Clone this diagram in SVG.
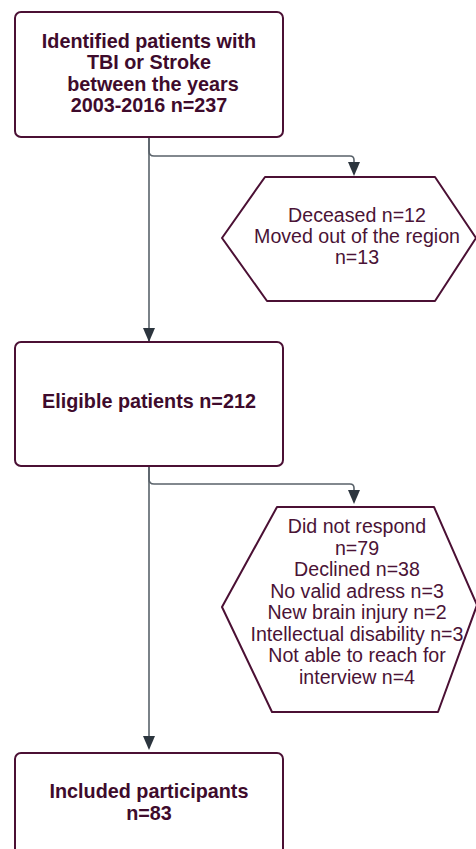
<svg xmlns="http://www.w3.org/2000/svg" width="476" height="849" viewBox="0 0 476 849">
<defs>
<style>
.box{fill:#fff;stroke:#4b1034;stroke-width:2}
.hex{fill:#fff;stroke:#4b1034;stroke-width:2;stroke-linejoin:round}
.b{font-family:"Liberation Sans",Arial,sans-serif;font-weight:bold;font-size:19.8px;fill:#3e0b2c;text-anchor:middle}
.r{font-family:"Liberation Sans",Arial,sans-serif;font-size:19.6px;fill:#4a1336;text-anchor:middle}
.c{fill:none;stroke:#59626a;stroke-width:1.6}
.ah{fill:#2c353e}
</style>
</defs>
<rect width="476" height="849" fill="#fff"/>
<g id="connectors">
<path class="c" d="M149,137 V743"/>
<path class="ah" d="M143,736 L155,736 L149,750 Z"/>
<path class="c" d="M149,137 V151 Q149,156 154,156 H350 Q354,156 354,160 V168"/>
<path class="ah" d="M348,162 L360,162 L354,176 Z"/>
<path class="c" d="M149,466 V479 Q149,484 154,484 H350 Q354,484 354,488 V497"/>
<path class="ah" d="M348,490 L360,490 L354,504 Z"/>
<path class="ah" d="M143,328 L155,328 L149,342 Z"/>
</g>
<g id="n1">
<rect class="box" x="15" y="12" width="268" height="125" rx="6"/>
<text class="b" x="149" y="48">Identified patients with</text>
<text class="b" x="149" y="69">TBI or Stroke</text>
<text class="b" x="153" y="91">between the years</text>
<text class="b" x="149" y="112">2003-2016 n=237</text>
</g>
<g id="n2">
<path class="hex" d="M265,177 H435 L476,238 L435,301 H267 L222,238 Z"/>
<text class="r" x="357" y="222">Deceased n=12</text>
<text class="r" x="357" y="243">Moved out of the region</text>
<text class="r" x="357" y="264">n=13</text>
</g>
<g id="n3">
<rect class="box" x="15" y="342" width="268" height="124" rx="6"/>
<text class="b" x="149" y="408">Eligible patients n=212</text>
</g>
<g id="n4">
<path class="hex" d="M277,507 H434 L477,605 L438,712 H272 L222,607 Z"/>
<text class="r" x="357" y="533">Did not respond</text>
<text class="r" x="357" y="555">n=79</text>
<text class="r" x="357" y="576">Declined n=38</text>
<text class="r" x="357" y="598">No valid adress n=3</text>
<text class="r" x="357" y="619">New brain injury n=2</text>
<text class="r" x="357" y="641">Intellectual disability n=3</text>
<text class="r" x="357" y="662">Not able to reach for</text>
<text class="r" x="357" y="684">interview n=4</text>
</g>
<g id="n5">
<rect class="box" x="15" y="753" width="268" height="110" rx="6"/>
<text class="b" x="149" y="798">Included participants</text>
<text class="b" x="149" y="820">n=83</text>
</g>
</svg>
